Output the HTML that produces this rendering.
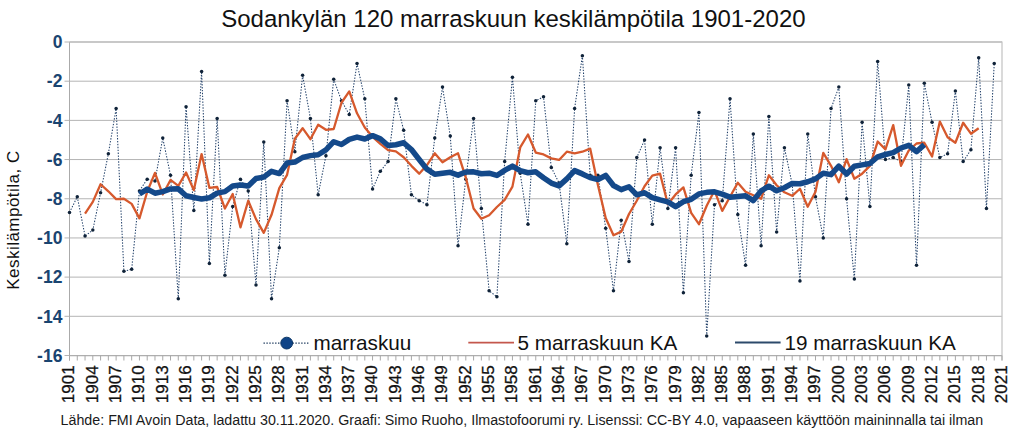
<!DOCTYPE html>
<html><head><meta charset="utf-8"><title>Sodankylän 120 marraskuun keskilämpötila 1901-2020</title>
<style>
html,body{margin:0;padding:0;background:#fff;}
body{width:1024px;height:430px;overflow:hidden;}
svg{display:block;font-family:"Liberation Sans", Arial, sans-serif;}
</style></head><body>
<svg width="1024" height="430" viewBox="0 0 1024 430">
<rect width="1024" height="430" fill="#fff"/>

<text x="221.2" y="27.2" font-size="24.5" textLength="584.4" lengthAdjust="spacingAndGlyphs" fill="#111">Sodankylän 120 marraskuun keskilämpötila 1901-2020</text>
<g><line x1="64.5" y1="42.00" x2="1002.0" y2="42.00" stroke="#b4b4b4" stroke-width="1"/><line x1="64.5" y1="81.19" x2="1002.0" y2="81.19" stroke="#b4b4b4" stroke-width="1"/><line x1="64.5" y1="120.38" x2="1002.0" y2="120.38" stroke="#b4b4b4" stroke-width="1"/><line x1="64.5" y1="159.56" x2="1002.0" y2="159.56" stroke="#b4b4b4" stroke-width="1"/><line x1="64.5" y1="198.75" x2="1002.0" y2="198.75" stroke="#b4b4b4" stroke-width="1"/><line x1="64.5" y1="237.94" x2="1002.0" y2="237.94" stroke="#b4b4b4" stroke-width="1"/><line x1="64.5" y1="277.12" x2="1002.0" y2="277.12" stroke="#b4b4b4" stroke-width="1"/><line x1="64.5" y1="316.31" x2="1002.0" y2="316.31" stroke="#b4b4b4" stroke-width="1"/><line x1="64.5" y1="355.50" x2="1002.0" y2="355.50" stroke="#b4b4b4" stroke-width="1"/></g>
<line x1="69.5" y1="42.0" x2="69.5" y2="360.5" stroke="#aaaaaa" stroke-width="1"/>
<line x1="1002.0" y1="41.4" x2="1002.0" y2="360.5" stroke="#c6c6c6" stroke-width="1.3"/>
<line x1="69.5" y1="355.8" x2="1002.0" y2="355.8" stroke="#acacac" stroke-width="1.1"/>
<line x1="69.5" y1="42.0" x2="1002.0" y2="42.0" stroke="#c2c2c2" stroke-width="1.5"/>
<path d="M69.50 355.5V360.5M77.27 355.5V360.5M85.04 355.5V360.5M92.81 355.5V360.5M100.58 355.5V360.5M108.35 355.5V360.5M116.12 355.5V360.5M123.90 355.5V360.5M131.67 355.5V360.5M139.44 355.5V360.5M147.21 355.5V360.5M154.98 355.5V360.5M162.75 355.5V360.5M170.52 355.5V360.5M178.29 355.5V360.5M186.06 355.5V360.5M193.83 355.5V360.5M201.60 355.5V360.5M209.38 355.5V360.5M217.15 355.5V360.5M224.92 355.5V360.5M232.69 355.5V360.5M240.46 355.5V360.5M248.23 355.5V360.5M256.00 355.5V360.5M263.77 355.5V360.5M271.54 355.5V360.5M279.31 355.5V360.5M287.08 355.5V360.5M294.85 355.5V360.5M302.62 355.5V360.5M310.40 355.5V360.5M318.17 355.5V360.5M325.94 355.5V360.5M333.71 355.5V360.5M341.48 355.5V360.5M349.25 355.5V360.5M357.02 355.5V360.5M364.79 355.5V360.5M372.56 355.5V360.5M380.33 355.5V360.5M388.10 355.5V360.5M395.88 355.5V360.5M403.65 355.5V360.5M411.42 355.5V360.5M419.19 355.5V360.5M426.96 355.5V360.5M434.73 355.5V360.5M442.50 355.5V360.5M450.27 355.5V360.5M458.04 355.5V360.5M465.81 355.5V360.5M473.58 355.5V360.5M481.35 355.5V360.5M489.12 355.5V360.5M496.90 355.5V360.5M504.67 355.5V360.5M512.44 355.5V360.5M520.21 355.5V360.5M527.98 355.5V360.5M535.75 355.5V360.5M543.52 355.5V360.5M551.29 355.5V360.5M559.06 355.5V360.5M566.83 355.5V360.5M574.60 355.5V360.5M582.38 355.5V360.5M590.15 355.5V360.5M597.92 355.5V360.5M605.69 355.5V360.5M613.46 355.5V360.5M621.23 355.5V360.5M629.00 355.5V360.5M636.77 355.5V360.5M644.54 355.5V360.5M652.31 355.5V360.5M660.08 355.5V360.5M667.85 355.5V360.5M675.62 355.5V360.5M683.40 355.5V360.5M691.17 355.5V360.5M698.94 355.5V360.5M706.71 355.5V360.5M714.48 355.5V360.5M722.25 355.5V360.5M730.02 355.5V360.5M737.79 355.5V360.5M745.56 355.5V360.5M753.33 355.5V360.5M761.10 355.5V360.5M768.88 355.5V360.5M776.65 355.5V360.5M784.42 355.5V360.5M792.19 355.5V360.5M799.96 355.5V360.5M807.73 355.5V360.5M815.50 355.5V360.5M823.27 355.5V360.5M831.04 355.5V360.5M838.81 355.5V360.5M846.58 355.5V360.5M854.35 355.5V360.5M862.12 355.5V360.5M869.90 355.5V360.5M877.67 355.5V360.5M885.44 355.5V360.5M893.21 355.5V360.5M900.98 355.5V360.5M908.75 355.5V360.5M916.52 355.5V360.5M924.29 355.5V360.5M932.06 355.5V360.5M939.83 355.5V360.5M947.60 355.5V360.5M955.38 355.5V360.5M963.15 355.5V360.5M970.92 355.5V360.5M978.69 355.5V360.5M986.46 355.5V360.5M994.23 355.5V360.5M1002.00 355.5V360.5" stroke="#a8a8a8" stroke-width="1" fill="none"/>
<g font-size="17.5" font-weight="bold" fill="#1a4470"><text x="62.4" y="48.20" text-anchor="end">0</text><text x="62.4" y="87.39" text-anchor="end">-2</text><text x="62.4" y="126.58" text-anchor="end">-4</text><text x="62.4" y="165.76" text-anchor="end">-6</text><text x="62.4" y="204.95" text-anchor="end">-8</text><text x="62.4" y="244.14" text-anchor="end">-10</text><text x="62.4" y="283.32" text-anchor="end">-12</text><text x="62.4" y="322.51" text-anchor="end">-14</text><text x="62.4" y="361.70" text-anchor="end">-16</text></g>
<g font-size="17" fill="#111" stroke="#111" stroke-width="0.3"><text transform="translate(74.40,365.3) rotate(-90)" text-anchor="end">1901</text><text transform="translate(97.71,365.3) rotate(-90)" text-anchor="end">1904</text><text transform="translate(121.03,365.3) rotate(-90)" text-anchor="end">1907</text><text transform="translate(144.34,365.3) rotate(-90)" text-anchor="end">1910</text><text transform="translate(167.65,365.3) rotate(-90)" text-anchor="end">1913</text><text transform="translate(190.96,365.3) rotate(-90)" text-anchor="end">1916</text><text transform="translate(214.28,365.3) rotate(-90)" text-anchor="end">1919</text><text transform="translate(237.59,365.3) rotate(-90)" text-anchor="end">1922</text><text transform="translate(260.90,365.3) rotate(-90)" text-anchor="end">1925</text><text transform="translate(284.21,365.3) rotate(-90)" text-anchor="end">1928</text><text transform="translate(307.52,365.3) rotate(-90)" text-anchor="end">1931</text><text transform="translate(330.84,365.3) rotate(-90)" text-anchor="end">1934</text><text transform="translate(354.15,365.3) rotate(-90)" text-anchor="end">1937</text><text transform="translate(377.46,365.3) rotate(-90)" text-anchor="end">1940</text><text transform="translate(400.77,365.3) rotate(-90)" text-anchor="end">1943</text><text transform="translate(424.09,365.3) rotate(-90)" text-anchor="end">1946</text><text transform="translate(447.40,365.3) rotate(-90)" text-anchor="end">1949</text><text transform="translate(470.71,365.3) rotate(-90)" text-anchor="end">1952</text><text transform="translate(494.02,365.3) rotate(-90)" text-anchor="end">1955</text><text transform="translate(517.34,365.3) rotate(-90)" text-anchor="end">1958</text><text transform="translate(540.65,365.3) rotate(-90)" text-anchor="end">1961</text><text transform="translate(563.96,365.3) rotate(-90)" text-anchor="end">1964</text><text transform="translate(587.27,365.3) rotate(-90)" text-anchor="end">1967</text><text transform="translate(610.59,365.3) rotate(-90)" text-anchor="end">1970</text><text transform="translate(633.90,365.3) rotate(-90)" text-anchor="end">1973</text><text transform="translate(657.21,365.3) rotate(-90)" text-anchor="end">1976</text><text transform="translate(680.52,365.3) rotate(-90)" text-anchor="end">1979</text><text transform="translate(703.84,365.3) rotate(-90)" text-anchor="end">1982</text><text transform="translate(727.15,365.3) rotate(-90)" text-anchor="end">1985</text><text transform="translate(750.46,365.3) rotate(-90)" text-anchor="end">1988</text><text transform="translate(773.77,365.3) rotate(-90)" text-anchor="end">1991</text><text transform="translate(797.09,365.3) rotate(-90)" text-anchor="end">1994</text><text transform="translate(820.40,365.3) rotate(-90)" text-anchor="end">1997</text><text transform="translate(843.71,365.3) rotate(-90)" text-anchor="end">2000</text><text transform="translate(867.02,365.3) rotate(-90)" text-anchor="end">2003</text><text transform="translate(890.34,365.3) rotate(-90)" text-anchor="end">2006</text><text transform="translate(913.65,365.3) rotate(-90)" text-anchor="end">2009</text><text transform="translate(936.96,365.3) rotate(-90)" text-anchor="end">2012</text><text transform="translate(960.27,365.3) rotate(-90)" text-anchor="end">2015</text><text transform="translate(983.59,365.3) rotate(-90)" text-anchor="end">2018</text><text transform="translate(1006.90,365.3) rotate(-90)" text-anchor="end">2021</text></g>
<text transform="translate(18.6,220.3) rotate(-90)" text-anchor="middle" font-size="17" textLength="139" fill="#111">Keskilämpötila, C</text>
<polyline points="69.50,212.47 77.27,196.79 85.04,235.98 92.81,230.10 100.58,192.87 108.35,153.68 116.12,108.62 123.90,271.25 131.67,269.29 139.44,190.91 147.21,179.16 154.98,181.12 162.75,138.01 170.52,175.24 178.29,298.68 186.06,106.66 193.83,210.51 201.60,71.39 209.38,263.41 217.15,118.42 224.92,275.17 232.69,206.59 240.46,179.16 248.23,190.91 256.00,284.96 263.77,141.93 271.54,298.68 279.31,247.73 287.08,100.78 294.85,151.72 302.62,75.31 310.40,118.42 318.17,194.83 325.94,155.64 333.71,79.23 341.48,100.78 349.25,114.50 357.02,63.55 364.79,98.82 372.56,188.95 380.33,171.32 388.10,161.52 395.88,98.82 403.65,130.17 411.42,194.83 419.19,200.71 426.96,204.63 434.73,138.01 442.50,87.07 450.27,136.05 458.04,245.78 465.81,179.16 473.58,118.42 481.35,208.55 489.12,290.84 496.90,296.72 504.67,161.52 512.44,77.27 520.21,173.28 527.98,224.22 535.75,100.78 543.52,96.86 551.29,167.40 559.06,183.08 566.83,243.82 574.60,108.62 582.38,55.72 590.15,175.24 597.92,175.24 605.69,228.14 613.46,290.84 621.23,220.30 629.00,261.45 636.77,157.60 644.54,139.97 652.31,224.22 660.08,147.81 667.85,208.55 675.62,147.81 683.40,292.80 691.17,175.24 698.94,112.54 706.71,335.91 714.48,204.63 722.25,200.71 730.02,98.82 737.79,214.43 745.56,265.37 753.33,134.09 761.10,245.78 768.88,116.46 776.65,232.06 784.42,147.81 792.19,184.05 799.96,281.04 807.73,134.09 815.50,196.79 823.27,237.94 831.04,108.62 838.81,87.07 846.58,198.75 854.35,279.08 862.12,122.33 869.90,206.59 877.67,61.59 885.44,159.56 893.21,157.60 900.98,161.52 908.75,85.11 916.52,265.37 924.29,83.15 932.06,122.33 939.83,157.60 947.60,153.68 955.38,90.98 963.15,161.52 970.92,149.77 978.69,57.67 986.46,208.55 994.23,63.55" fill="none" stroke="#22416a" stroke-width="1.05" stroke-dasharray="1.4 1.5"/>
<g fill="#0f2238"><circle cx="69.50" cy="212.47" r="1.75"/><circle cx="77.27" cy="196.79" r="1.75"/><circle cx="85.04" cy="235.98" r="1.75"/><circle cx="92.81" cy="230.10" r="1.75"/><circle cx="100.58" cy="192.87" r="1.75"/><circle cx="108.35" cy="153.68" r="1.75"/><circle cx="116.12" cy="108.62" r="1.75"/><circle cx="123.90" cy="271.25" r="1.75"/><circle cx="131.67" cy="269.29" r="1.75"/><circle cx="139.44" cy="190.91" r="1.75"/><circle cx="147.21" cy="179.16" r="1.75"/><circle cx="154.98" cy="181.12" r="1.75"/><circle cx="162.75" cy="138.01" r="1.75"/><circle cx="170.52" cy="175.24" r="1.75"/><circle cx="178.29" cy="298.68" r="1.75"/><circle cx="186.06" cy="106.66" r="1.75"/><circle cx="193.83" cy="210.51" r="1.75"/><circle cx="201.60" cy="71.39" r="1.75"/><circle cx="209.38" cy="263.41" r="1.75"/><circle cx="217.15" cy="118.42" r="1.75"/><circle cx="224.92" cy="275.17" r="1.75"/><circle cx="232.69" cy="206.59" r="1.75"/><circle cx="240.46" cy="179.16" r="1.75"/><circle cx="248.23" cy="190.91" r="1.75"/><circle cx="256.00" cy="284.96" r="1.75"/><circle cx="263.77" cy="141.93" r="1.75"/><circle cx="271.54" cy="298.68" r="1.75"/><circle cx="279.31" cy="247.73" r="1.75"/><circle cx="287.08" cy="100.78" r="1.75"/><circle cx="294.85" cy="151.72" r="1.75"/><circle cx="302.62" cy="75.31" r="1.75"/><circle cx="310.40" cy="118.42" r="1.75"/><circle cx="318.17" cy="194.83" r="1.75"/><circle cx="325.94" cy="155.64" r="1.75"/><circle cx="333.71" cy="79.23" r="1.75"/><circle cx="341.48" cy="100.78" r="1.75"/><circle cx="349.25" cy="114.50" r="1.75"/><circle cx="357.02" cy="63.55" r="1.75"/><circle cx="364.79" cy="98.82" r="1.75"/><circle cx="372.56" cy="188.95" r="1.75"/><circle cx="380.33" cy="171.32" r="1.75"/><circle cx="388.10" cy="161.52" r="1.75"/><circle cx="395.88" cy="98.82" r="1.75"/><circle cx="403.65" cy="130.17" r="1.75"/><circle cx="411.42" cy="194.83" r="1.75"/><circle cx="419.19" cy="200.71" r="1.75"/><circle cx="426.96" cy="204.63" r="1.75"/><circle cx="434.73" cy="138.01" r="1.75"/><circle cx="442.50" cy="87.07" r="1.75"/><circle cx="450.27" cy="136.05" r="1.75"/><circle cx="458.04" cy="245.78" r="1.75"/><circle cx="465.81" cy="179.16" r="1.75"/><circle cx="473.58" cy="118.42" r="1.75"/><circle cx="481.35" cy="208.55" r="1.75"/><circle cx="489.12" cy="290.84" r="1.75"/><circle cx="496.90" cy="296.72" r="1.75"/><circle cx="504.67" cy="161.52" r="1.75"/><circle cx="512.44" cy="77.27" r="1.75"/><circle cx="520.21" cy="173.28" r="1.75"/><circle cx="527.98" cy="224.22" r="1.75"/><circle cx="535.75" cy="100.78" r="1.75"/><circle cx="543.52" cy="96.86" r="1.75"/><circle cx="551.29" cy="167.40" r="1.75"/><circle cx="559.06" cy="183.08" r="1.75"/><circle cx="566.83" cy="243.82" r="1.75"/><circle cx="574.60" cy="108.62" r="1.75"/><circle cx="582.38" cy="55.72" r="1.75"/><circle cx="590.15" cy="175.24" r="1.75"/><circle cx="597.92" cy="175.24" r="1.75"/><circle cx="605.69" cy="228.14" r="1.75"/><circle cx="613.46" cy="290.84" r="1.75"/><circle cx="621.23" cy="220.30" r="1.75"/><circle cx="629.00" cy="261.45" r="1.75"/><circle cx="636.77" cy="157.60" r="1.75"/><circle cx="644.54" cy="139.97" r="1.75"/><circle cx="652.31" cy="224.22" r="1.75"/><circle cx="660.08" cy="147.81" r="1.75"/><circle cx="667.85" cy="208.55" r="1.75"/><circle cx="675.62" cy="147.81" r="1.75"/><circle cx="683.40" cy="292.80" r="1.75"/><circle cx="691.17" cy="175.24" r="1.75"/><circle cx="698.94" cy="112.54" r="1.75"/><circle cx="706.71" cy="335.91" r="1.75"/><circle cx="714.48" cy="204.63" r="1.75"/><circle cx="722.25" cy="200.71" r="1.75"/><circle cx="730.02" cy="98.82" r="1.75"/><circle cx="737.79" cy="214.43" r="1.75"/><circle cx="745.56" cy="265.37" r="1.75"/><circle cx="753.33" cy="134.09" r="1.75"/><circle cx="761.10" cy="245.78" r="1.75"/><circle cx="768.88" cy="116.46" r="1.75"/><circle cx="776.65" cy="232.06" r="1.75"/><circle cx="784.42" cy="147.81" r="1.75"/><circle cx="792.19" cy="184.05" r="1.75"/><circle cx="799.96" cy="281.04" r="1.75"/><circle cx="807.73" cy="134.09" r="1.75"/><circle cx="815.50" cy="196.79" r="1.75"/><circle cx="823.27" cy="237.94" r="1.75"/><circle cx="831.04" cy="108.62" r="1.75"/><circle cx="838.81" cy="87.07" r="1.75"/><circle cx="846.58" cy="198.75" r="1.75"/><circle cx="854.35" cy="279.08" r="1.75"/><circle cx="862.12" cy="122.33" r="1.75"/><circle cx="869.90" cy="206.59" r="1.75"/><circle cx="877.67" cy="61.59" r="1.75"/><circle cx="885.44" cy="159.56" r="1.75"/><circle cx="893.21" cy="157.60" r="1.75"/><circle cx="900.98" cy="161.52" r="1.75"/><circle cx="908.75" cy="85.11" r="1.75"/><circle cx="916.52" cy="265.37" r="1.75"/><circle cx="924.29" cy="83.15" r="1.75"/><circle cx="932.06" cy="122.33" r="1.75"/><circle cx="939.83" cy="157.60" r="1.75"/><circle cx="947.60" cy="153.68" r="1.75"/><circle cx="955.38" cy="90.98" r="1.75"/><circle cx="963.15" cy="161.52" r="1.75"/><circle cx="970.92" cy="149.77" r="1.75"/><circle cx="978.69" cy="57.67" r="1.75"/><circle cx="986.46" cy="208.55" r="1.75"/><circle cx="994.23" cy="63.55" r="1.75"/></g>
<polyline points="85.04,213.64 92.81,201.88 100.58,184.25 108.35,191.30 116.12,199.14 123.90,198.75 131.67,203.84 139.44,218.34 147.21,191.70 154.98,172.89 162.75,194.44 170.52,179.94 178.29,185.82 186.06,172.49 193.83,190.13 201.60,154.08 209.38,187.78 217.15,186.99 224.92,208.55 232.69,194.05 240.46,227.36 248.23,200.71 256.00,219.13 263.77,232.84 271.54,214.82 279.31,188.17 287.08,174.85 294.85,138.79 302.62,128.21 310.40,139.19 318.17,124.69 325.94,129.78 333.71,129.00 341.48,102.74 349.25,91.38 357.02,113.32 364.79,127.43 372.56,136.83 380.33,143.89 388.10,150.16 395.88,151.33 403.65,157.21 411.42,165.83 419.19,173.67 426.96,165.05 434.73,153.29 442.50,162.31 450.27,157.21 458.04,153.29 465.81,177.59 473.58,208.55 481.35,218.74 489.12,215.21 496.90,206.98 504.67,199.93 512.44,186.60 520.21,147.41 527.98,134.48 535.75,152.51 543.52,154.47 551.29,158.39 559.06,159.95 566.83,151.72 574.60,153.29 582.38,151.72 590.15,148.59 597.92,185.03 605.69,217.95 613.46,235.19 621.23,231.67 629.00,214.03 636.77,200.71 644.54,186.21 652.31,175.63 660.08,173.67 667.85,204.24 675.62,194.44 683.40,187.39 691.17,212.86 698.94,224.22 706.71,205.80 714.48,190.52 722.25,210.90 730.02,196.79 737.79,182.68 745.56,191.70 753.33,195.22 761.10,198.75 768.88,175.24 776.65,185.23 784.42,192.28 792.19,195.81 799.96,188.76 807.73,206.78 815.50,191.70 823.27,152.90 831.04,165.83 838.81,182.29 846.58,159.17 854.35,178.76 862.12,173.67 869.90,165.83 877.67,141.54 885.44,149.37 893.21,125.08 900.98,165.83 908.75,150.55 916.52,143.50 924.29,142.71 932.06,156.43 939.83,121.55 947.60,137.23 955.38,142.71 963.15,122.73 970.92,133.70 978.69,128.21" fill="none" stroke="#d6592d" stroke-width="2.3" stroke-linejoin="round"/>
<polyline points="139.44,194.01 147.21,189.06 154.98,193.18 162.75,191.63 170.52,188.95 178.29,188.85 186.06,195.76 193.83,197.51 201.60,198.96 209.38,197.82 217.15,193.08 224.92,191.63 232.69,186.07 240.46,185.03 248.23,186.07 256.00,178.54 263.77,177.09 271.54,171.32 279.31,173.59 287.08,163.07 294.85,162.04 302.62,157.50 310.40,155.64 318.17,154.72 325.94,149.87 333.71,141.72 341.48,144.51 349.25,139.35 357.02,137.08 364.79,139.04 372.56,135.64 380.33,138.83 388.10,145.54 395.88,144.71 403.65,142.75 411.42,149.56 419.19,159.56 426.96,169.15 434.73,174.31 442.50,173.18 450.27,172.35 458.04,175.13 465.81,171.94 473.58,171.83 481.35,173.79 489.12,173.18 496.90,175.44 504.67,170.39 512.44,166.06 520.21,170.70 527.98,172.76 535.75,171.83 543.52,177.71 551.29,183.08 559.06,185.86 566.83,178.85 574.60,170.60 582.38,173.90 590.15,177.61 597.92,179.47 605.69,175.44 613.46,185.55 621.23,189.67 629.00,186.79 636.77,194.83 644.54,192.77 652.31,197.62 660.08,199.88 667.85,201.95 675.62,206.69 683.40,201.74 691.17,199.37 698.94,193.90 706.71,192.36 714.48,191.84 722.25,194.16 730.02,197.15 737.79,196.43 745.56,195.81 753.33,200.55 761.10,190.86 768.88,186.22 776.65,190.76 784.42,187.77 792.19,183.44 799.96,183.75 807.73,181.79 815.50,178.90 823.27,173.23 831.04,174.67 838.81,166.21 846.58,174.05 854.35,166.21 862.12,164.87 869.90,163.48 877.67,156.78 885.44,154.51 893.21,152.65 900.98,148.01 908.75,145.33 916.52,151.73 924.29,144.61" fill="none" stroke="#14498a" stroke-width="5.5" stroke-linejoin="round"/>
<g>
<line x1="263.5" y1="343.1" x2="309" y2="343.1" stroke="#1d3a5e" stroke-width="1.1" stroke-dasharray="1.4 1.5"/>
<circle cx="286.7" cy="343.1" r="5.9" fill="#0f4487" stroke="#0a3566" stroke-width="1"/>
<text x="313.6" y="349.9" font-size="20.7" fill="#111">marraskuu</text>
<line x1="468.3" y1="342.6" x2="514" y2="342.6" stroke="#c4574c" stroke-width="1.6"/>
<text x="517.5" y="349.9" font-size="20.7" fill="#111">5 marraskuun KA</text>
<line x1="735" y1="342.6" x2="780.6" y2="342.6" stroke="#2c4a6b" stroke-width="2"/>
<text x="784.6" y="349.9" font-size="20.7" fill="#111">19 marraskuun KA</text>
</g>
<text x="60.6" y="424.9" font-size="14.25" fill="#1a1a1a">Lähde: FMI Avoin Data, ladattu 30.11.2020. Graafi: Simo Ruoho, Ilmastofoorumi ry. Lisenssi: CC-BY 4.0, vapaaseen käyttöön maininnalla tai ilman</text>
</svg></body></html>
